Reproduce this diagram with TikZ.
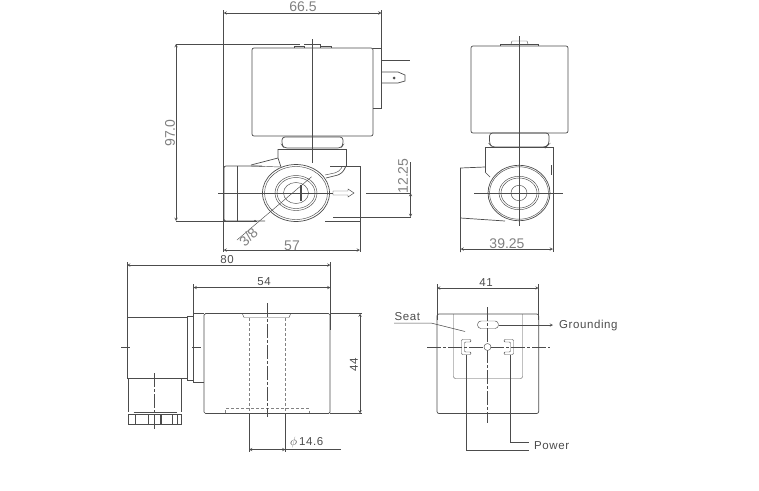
\documentclass[tikz,border=0pt]{standalone}
\usepackage{fontspec}
\setmainfont{Liberation Sans}
\newfontfamily\widefont[LetterSpace=5]{Liberation Sans}
\definecolor{ink}{gray}{0.3}
\definecolor{cadink}{gray}{0.5}
\tikzset{
part/.style={draw=ink, line width=0.7pt},
thin part/.style={draw=ink, line width=0.45pt},
dimline/.style={draw=ink, line width=0.5pt, <->, >=stealth},
extline/.style={draw=ink, line width=0.5pt},
hidden/.style={draw=ink!70, line width=0.6pt, dash pattern=on 3pt off 2pt},
axis/.style={draw=ink, line width=0.5pt, dash pattern=on 14pt off 2pt on 3pt off 2pt},
cadtext/.style={text=cadink, font=\fontsize{14}{15}\selectfont, inner sep=0pt},
wordtext/.style={text=ink, font=\fontsize{11.5}{13}\selectfont\widefont, inner sep=0pt}
}
\begin{document}
\begin{tikzpicture}[x=1pt, y=-1pt]
\useasboundingbox (0, 0) rectangle (759, 490);
% valve, front
\draw[extline] (223.5, 10) -- (223.5, 252);
\draw[extline] (381.5, 10) -- (381.5, 50);
\draw[dimline] (223.5, 13) -- (381.5, 13);
\node[cadtext] (lenTop) at (303, 7) {66.5};
\draw[extline] (176, 44) -- (300, 44);
\draw[extline] (176, 221) -- (257, 221);
\draw[dimline] (176, 44) -- (176, 221);
\node[cadtext, rotate=90] (lenHeight) at (170, 133) {97.0};
\draw[part, rounded corners=2pt] (252, 136) -- (252, 48) -- (373, 48) -- (373, 136) -- cycle;
\draw[thin part] (294, 48) -- (294, 46) -- (304, 46) -- (304, 48);
\draw[thin part] (304, 44) -- (320, 44) -- (320, 48);
\draw[thin part] (320, 46) -- (331, 46) -- (331, 48);
\draw[part] (373, 48) -- (381, 48) -- (381, 108) -- (373, 108);
\draw[part] (381, 60) -- (410, 60);
\draw[part] (381, 72) -- (398, 72) -- (405, 75) -- (405, 81) -- (398, 83) -- (381, 83);
\fill[ink] (394, 78) circle[radius=1.5];
\draw[part, rounded corners=3pt] (284, 148) -- (282, 145) -- (282, 137) -- (343, 137) -- (343, 145) -- (341, 148) -- cycle;
\draw[part] (278, 149) -- (278, 158) -- (281, 167);
\draw[part] (346, 149) -- (346, 166);
\draw[part] (278, 149) -- (346, 149);
\draw[part, rounded corners=5pt] (346, 166) -- (342, 174) -- (326, 178);
\draw[thin part, rounded corners=4pt] (342, 167) -- (339, 172) -- (325, 175);
\draw[part] (251, 165) -- (278, 158);
\draw[thin part] (251, 166) -- (281, 167);
\draw[part, rounded corners=2pt] (265, 221) -- (224, 221) -- (224, 166) -- (262, 166);
\draw[part] (237, 166) -- (237, 221);
\draw[part] (330, 166) -- (360, 166) -- (360, 218);
\draw[part] (333, 217) -- (360, 217);
\draw[part] (360, 217) -- (360, 221) -- (325, 221);
\draw[part, fill=white] (296, 193) ellipse (33.5 and 28.5);
\foreach \rx/\ry in {31.5/26.5, 21/17.5, 19/15.5, 12.5/10.5}
  \draw[thin part] (296, 193) ellipse [x radius=\rx, y radius=\ry];
\fill[ink] (299.5, 185) rectangle (302, 201);
\draw[thin part] (218, 193) -- (333, 193);
\draw[thin part] (366, 193) -- (411, 193);
\draw[thin part] (312, 39) -- (312, 163);
\draw[thin part] (333, 191) -- (348, 191) -- (348, 189) -- (354, 193) -- (348, 197) -- (348, 195) -- (333, 195) -- cycle;
\draw[extline] (333, 217) -- (411, 217);
\draw[dimline] (410.5, 193) -- (410.5, 217);
\draw[extline] (410.5, 162) -- (410.5, 193);
\node[cadtext, rotate=90] (lenOffset) at (403, 176) {12.25};
\draw[thin part] (311.7, 176.7) -- (237, 240);
\fill[ink] (255, 221) circle[radius=1.2];
\node[cadtext, rotate=45] (pipeSize) at (248.5, 237) {3/8};
\draw[extline] (360, 218) -- (360, 252);
\draw[dimline] (223.5, 250) -- (360, 250);
\node[cadtext] (lenBody) at (292, 246) {57};
% valve, side
\draw[part, rounded corners=2pt] (471, 133) -- (471, 46) -- (568, 46) -- (568, 133) -- cycle;
\draw[thin part] (500, 46) -- (500, 44) -- (538, 44) -- (538, 46);
\draw[thin part] (511, 44) -- (512, 41) -- (527, 41) -- (528, 44);
\draw[part, rounded corners=3pt] (492, 147) -- (489.5, 144) -- (489.5, 133) -- (549, 133) -- (549, 144) -- (546, 147) -- cycle;
\draw[part] (485, 172) -- (485, 147) -- (553, 147) -- (553, 252);
\draw[thin part] (551, 165) -- (551, 175);
\draw[part] (460.5, 252) -- (460.5, 168) -- (485, 167);
\draw[part] (460.5, 218) -- (505, 221);
\draw[part] (485, 172) -- (490, 177);
\draw[part, fill=white] (519, 193) ellipse (31 and 27.7);
\foreach \rx/\ry in {29.5/26.2, 20/16.7, 18/15, 8/7.7}
  \draw[thin part] (519, 193) ellipse [x radius=\rx, y radius=\ry];
\draw[thin part] (519.5, 36) -- (519.5, 226);
\draw[thin part] (474, 193) -- (563, 193);
\draw[dimline] (460.5, 249) -- (553, 249);
\node[cadtext] (lenSide) at (507, 244) {39.25};
% coil, side
\draw[extline] (127, 262) -- (127, 317);
\draw[extline] (330.5, 262) -- (330.5, 330);
\draw[extline] (193.5, 284) -- (193.5, 314);
\draw[dimline] (127, 265) -- (330.5, 265);
\node[wordtext] (lenCoil) at (227, 260) {80};
\draw[dimline] (193.5, 287.5) -- (330.5, 287.5);
\node[wordtext] (lenCoilBody) at (264, 282) {54};
\draw[part, rounded corners=1.5pt] (204, 313.5) -- (330, 313.5) -- (330, 413.5) -- (204, 413.5) -- cycle;
\draw[part] (204, 313.5) -- (193.5, 313.5) -- (193.5, 382) -- (204, 382);
\draw[part] (193.5, 316) -- (187.5, 316) -- (187.5, 380) -- (193.5, 380);
\draw[part] (187.5, 317) -- (127, 317) -- (127, 378.5) -- (187.5, 378.5);
\draw[part] (128, 378.5) -- (128, 412);
\draw[part] (181.5, 378.5) -- (181.5, 412);
\draw[thin part] (133.5, 412) -- (176.5, 412);
\draw[part] (128.5, 414) rectangle (181.5, 424.5);
\foreach \xpos in {135, 148, 161, 172, 177}
  \draw[thin part] (\xpos, 414) -- (\xpos, 424.5);
\fill[ink] (159.5, 414) rectangle (161.5, 424.5);
\draw[axis] (154.5, 373) -- (154.5, 431);
\draw[thin part] (121, 347.5) -- (130, 347.5);
\draw[thin part] (192, 347.5) -- (201, 347.5);
\draw[thin part] (242.5, 314) -- (244, 317.5) -- (289, 317.5) -- (290.5, 314);
\draw[hidden] (249, 318) -- (249, 413);
\draw[hidden] (285.5, 318) -- (285.5, 413);
\draw[hidden] (225.5, 413) -- (225.5, 408.5) -- (309, 408.5) -- (309, 413);
\draw[axis] (267, 303) -- (267, 417);
\draw[extline] (249, 413.5) -- (249, 452);
\draw[extline] (285.5, 413.5) -- (285.5, 452);
\draw[dimline] (249, 449.5) -- (285.5, 449.5);
\draw[extline] (285.5, 449.5) -- (341, 449.5);
\node[wordtext, anchor=west] (lenBore) at (290, 442.5) {$\phi$\,14.6};
\draw[extline] (330, 313.5) -- (362, 313.5);
\draw[extline] (330, 413.5) -- (362, 413.5);
\draw[dimline] (360, 313.5) -- (360, 413.5);
\node[wordtext, rotate=90] (lenCoilHigh) at (354, 365) {44};
% coil, plug face
\draw[extline] (437, 284) -- (437, 320);
\draw[extline] (538.7, 284) -- (538.7, 320);
\draw[dimline] (437, 288) -- (538.7, 288);
\node[wordtext] (lenFace) at (486, 283) {41};
\draw[part, rounded corners=2pt] (437, 413.5) -- (437, 314) -- (538.7, 314) -- (538.7, 413.5) -- cycle;
\draw[thin part, rounded corners=2pt] (453.5, 314) -- (453.5, 378.5) -- (522.5, 378.5) -- (522.5, 314);
\draw[thin part, rounded corners=3.5pt] (477.5, 321) rectangle (498.5, 328.5);
\coordinate (groundTip) at (553, 325);
\draw[thin part, ->, >=stealth] (498.5, 325) -- (groundTip);
\node[wordtext, anchor=west] (grounding) at (559, 326) {Grounding};
\draw[axis] (487.5, 307) -- (487.5, 423);
\draw[axis] (427, 347) -- (550, 347);
\draw[thin part, fill=white] (487.5, 347) circle[radius=3.5];
\draw[thin part, rounded corners=1pt] (471, 339.5) -- (461.5, 339.5) -- (461.5, 354.5) -- (471, 354.5) -- (471, 352) -- (464.5, 352) -- (464.5, 342) -- (471, 342) -- cycle;
\draw[thin part, rounded corners=1pt] (504, 339.5) -- (513.5, 339.5) -- (513.5, 354.5) -- (504, 354.5) -- (504, 352) -- (510.5, 352) -- (510.5, 342) -- (504, 342) -- cycle;
\node[wordtext, anchor=west] (seat) at (394.5, 317) {Seat};
\coordinate (seatTip) at (465, 331.5);
\draw[extline] (394, 323) -- (431, 323) -- (seatTip);
\node[wordtext, anchor=west] (power) at (534, 446) {Power};
\draw[extline] (466, 354.5) -- (466, 450) -- (529, 450);
\draw[extline] (510, 354.5) -- (510, 442) -- (529, 442);
\end{tikzpicture}
\end{document}
